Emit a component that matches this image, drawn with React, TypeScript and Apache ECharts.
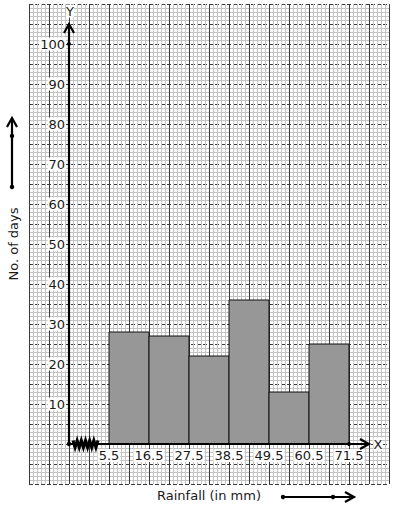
import React, { useEffect, useRef } from "react";
import * as echarts from "echarts";

// Class boundaries (rainfall in mm) and frequencies (no. of days)
const classStarts = [5.5, 16.5, 27.5, 38.5, 49.5, 60.5];
const classEnds = [16.5, 27.5, 38.5, 49.5, 60.5, 71.5];
const days = [28, 27, 22, 36, 13, 25];
const xTickLabels = ["5.5", "16.5", "27.5", "38.5", "49.5", "60.5", "71.5"];
const yTickLabels = ["10", "20", "30", "40", "50", "60", "70", "80", "90", "100"];

const FONT = "DejaVu Sans";

export default function App() {
  const ref = useRef<HTMLDivElement>(null);
  useEffect(() => {
    if (!ref.current) return;
    const chart = echarts.init(ref.current, null, { renderer: "svg" });
    const xMin = -16.5;
    const xMax = 82.5;
    const yMin = -10;
    const yMax = 110;
    const origin = -5.5;
    const xLabelVals = xTickLabels.map(Number);
    const yLabelVals = yTickLabels.map(Number);
    const near = (a: number, b: number) => Math.abs(a - b) < 1e-6;

    const gridAxisX = {
      type: "value",
      min: xMin,
      max: xMax,
      interval: 5.5,
      axisLine: { show: false, onZero: false },
      axisTick: { show: false },
      axisLabel: { show: false },
      splitLine: { show: true, lineStyle: { color: "#3a3a3a", width: 1 } },
      minorTick: { show: false, splitNumber: 5 },
      minorSplitLine: { show: true, lineStyle: { color: "#c4c4c4", width: 1 } },
    };
    const gridAxisY = {
      type: "value",
      min: yMin,
      max: yMax,
      interval: 5,
      axisLine: { show: false, onZero: false },
      axisTick: { show: false },
      axisLabel: { show: false },
      splitLine: { show: true, lineStyle: { color: "#3a3a3a", width: 1, type: [4, 2] } },
      minorTick: { show: false, splitNumber: 5 },
      minorSplitLine: { show: true, lineStyle: { color: "#c4c4c4", width: 1 } },
    };

    chart.setOption({
      animation: false,
      backgroundColor: "#fff",
      grid: { left: 29, top: 4, width: 360, height: 480, containLabel: false, outerBoundsMode: "none" },
      xAxis: [
        gridAxisX,
        {
          type: "value",
          min: xMin,
          max: xMax,
          interval: 5.5,
          position: "bottom",
          offset: -40,
          axisLine: { show: false, onZero: false },
          axisTick: { show: false },
          splitLine: { show: false },
          axisLabel: {
            show: true,
            margin: 5,
            fontFamily: FONT,
            fontSize: 13,
            color: "#1a1a1a",
            backgroundColor: "#fff",
            padding: [0, 1],
            showMinLabel: true,
            showMaxLabel: true,
            formatter: (v: number) => {
              const i = xLabelVals.findIndex((t) => near(t, v));
              return i >= 0 ? xTickLabels[i] : "";
            },
          },
        },
      ],
      yAxis: [
        gridAxisY,
        {
          type: "value",
          min: yMin,
          max: yMax,
          interval: 10,
          position: "left",
          offset: -40,
          axisLine: { show: false, onZero: false },
          axisTick: { show: false },
          splitLine: { show: false },
          axisLabel: {
            show: true,
            margin: 3,
            fontFamily: FONT,
            fontSize: 13,
            color: "#1a1a1a",
            backgroundColor: "#fff",
            padding: [0, 1],
            formatter: (v: number) => {
              const i = yLabelVals.findIndex((t) => near(t, v));
              return i >= 0 ? yTickLabels[i] : "";
            },
          },
        },
      ],
      series: [
        {
          type: "custom",
          name: "bars",
          xAxisIndex: 0,
          yAxisIndex: 0,
          data: days.map((d, i) => [classStarts[i], classEnds[i], d]),
          renderItem: (params: any, api: any) => {
            const p0 = api.coord([api.value(0), api.value(2)]);
            const p1 = api.coord([api.value(1), 0]);
            return {
              type: "rect",
              shape: { x: p0[0], y: p0[1], width: p1[0] - p0[0], height: p1[1] - p0[1] },
              style: { fill: "#979797", stroke: "#111", lineWidth: 1 },
            };
          },
          z: 3,
        },
        {
          type: "custom",
          name: "axes",
          xAxisIndex: 0,
          yAxisIndex: 0,
          data: [[origin, 0]],
          z: 4,
          renderItem: (params: any, api: any) => {
            const o = api.coord([origin, 0]);
            const yt = api.coord([origin, 105]);
            const xt = api.coord([77, 0]);
            const d100 = api.coord([origin, 100]);
            const dEnd = api.coord([classEnds[classEnds.length - 1], 0]);
            const first = api.coord([classStarts[0], 0]);
            const zig: number[][] = [];
            const zx0 = o[0] + 4;
            const zx1 = first[0] - 11;
            const n = 12;
            for (let k = 0; k <= n; k++) {
              zig.push([zx0 + ((zx1 - zx0) * k) / n, o[1] + (k % 2 === 0 ? -3.5 : 3.5)]);
            }
            const stroke = { stroke: "#000", lineWidth: 2.2, fill: null };
            return {
              type: "group",
              children: [
                { type: "line", shape: { x1: o[0], y1: o[1], x2: yt[0], y2: yt[1] }, style: stroke },
                { type: "line", shape: { x1: o[0], y1: o[1], x2: xt[0], y2: xt[1] }, style: stroke },
                {
                  type: "polyline",
                  shape: { points: [[yt[0] - 5, yt[1] + 9], [yt[0], yt[1]], [yt[0] + 5, yt[1] + 9]] },
                  style: stroke,
                },
                {
                  type: "polyline",
                  shape: { points: [[xt[0] - 9, xt[1] - 5], [xt[0], xt[1]], [xt[0] - 9, xt[1] + 5]] },
                  style: stroke,
                },
                { type: "polyline", shape: { points: zig }, style: { stroke: "#000", lineWidth: 3, fill: null } },
                { type: "circle", shape: { cx: o[0], cy: o[1], r: 2.2 }, style: { fill: "#000" } },
                { type: "circle", shape: { cx: d100[0], cy: d100[1], r: 2 }, style: { fill: "#000" } },
                { type: "circle", shape: { cx: dEnd[0], cy: dEnd[1], r: 2 }, style: { fill: "#000" } },
                {
                  type: "text",
                  x: xt[0] + 9,
                  y: xt[1],
                  style: {
                    text: "X",
                    font: `13px ${FONT}`,
                    fill: "#1a1a1a",
                    align: "center",
                    verticalAlign: "middle",
                    backgroundColor: "#fff",
                  },
                },
                {
                  type: "text",
                  x: yt[0] + 1,
                  y: yt[1] - 13,
                  style: {
                    text: "Y",
                    font: `13px ${FONT}`,
                    fill: "#1a1a1a",
                    align: "center",
                    verticalAlign: "middle",
                    backgroundColor: "#fff",
                  },
                },
              ],
            };
          },
        },
      ],
      graphic: [
        {
          type: "text",
          x: 13,
          y: 244,
          rotation: Math.PI / 2,
          style: {
            text: "No. of days",
            font: `13px ${FONT}`,
            fill: "#1a1a1a",
            align: "center",
            verticalAlign: "middle",
          },
        },
        {
          type: "text",
          x: 209,
          y: 495,
          style: {
            text: "Rainfall (in mm)",
            font: `13px ${FONT}`,
            fill: "#1a1a1a",
            align: "center",
            verticalAlign: "middle",
          },
        },
        { type: "line", shape: { x1: 12, y1: 187, x2: 12, y2: 118 }, style: { stroke: "#000", lineWidth: 2.2 } },
        {
          type: "polyline",
          shape: { points: [[7, 127], [12, 118], [17, 127]] },
          style: { stroke: "#000", lineWidth: 2.2, fill: null },
        },
        { type: "circle", shape: { cx: 12, cy: 136, r: 2.2 }, style: { fill: "#000" } },
        { type: "circle", shape: { cx: 12, cy: 187, r: 2.2 }, style: { fill: "#000" } },
        { type: "line", shape: { x1: 283, y1: 497, x2: 354, y2: 497 }, style: { stroke: "#000", lineWidth: 2.2 } },
        {
          type: "polyline",
          shape: { points: [[345, 492], [354, 497], [345, 502]] },
          style: { stroke: "#000", lineWidth: 2.2, fill: null },
        },
        { type: "circle", shape: { cx: 283, cy: 497, r: 2.2 }, style: { fill: "#000" } },
        { type: "circle", shape: { cx: 333, cy: 497, r: 2.2 }, style: { fill: "#000" } },
      ],
    });
    return () => chart.dispose();
  }, []);
  return <div ref={ref} style={{ width: 394, height: 510, position: "absolute", left: 0, top: 0 }} />;
}
